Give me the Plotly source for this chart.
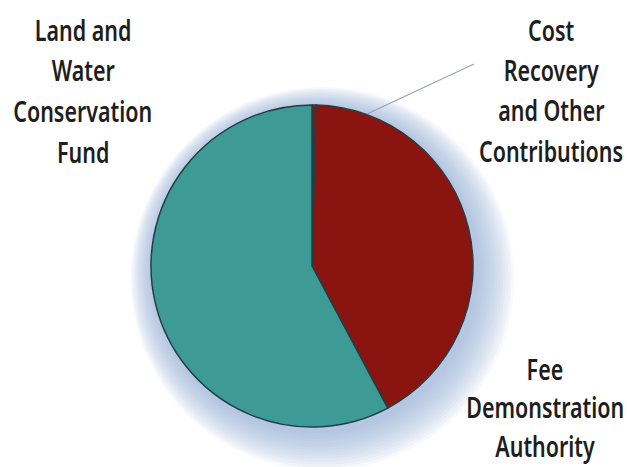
import plotly.graph_objects as go

# Data
categories = ["Cost Recovery and Other Contributions",
              "Fee Demonstration Authority",
              "Land and Water Conservation Fund"]
shares = [0.4, 41.8, 57.8]
colors = ["#8a1410", "#8a1410", "#3d9a95"]

W, H = 627, 467
cx, cy, r = 312, 266, 161

def px(x):
    return x / W

def py(y):
    return 1 - y / H

fig = go.Figure()
fig.add_trace(go.Pie(
    labels=categories, values=shares, sort=False, direction="clockwise",
    rotation=0, marker=dict(colors=colors, line=dict(color="#1f3f45", width=1.5)),
    textinfo="none", hoverinfo="label+percent", showlegend=False,
    domain=dict(x=[px(cx - r), px(cx + r)], y=[py(cy + r), py(cy - r)]),
))

shapes = []
# soft blue glow behind the pie
for i in range(14, 0, -1):
    rr = r + i * 2.2
    ox, oy = 2 + i * 0.6, 3 + i * 0.7
    shapes.append(dict(type="circle", xref="paper", yref="paper", layer="below",
                       x0=px(cx + ox - rr), x1=px(cx + ox + rr),
                       y0=py(cy + oy + rr), y1=py(cy + oy - rr),
                       fillcolor="rgba(150,180,220,0.075)", line=dict(width=0)))
# leader line for the small slice
shapes.append(dict(type="line", xref="paper", yref="paper",
                   x0=px(367), y0=py(114), x1=px(474), y1=py(64),
                   line=dict(color="#9aa4aa", width=1.2)))

label_pos = {
    categories[0]: (551, [30, 70, 110, 151], ["Cost", "Recovery", "and Other", "Contributions"]),
    categories[1]: (545, [369, 407, 446], ["Fee", "Demonstration", "Authority"]),
    categories[2]: (83, [30, 70, 111, 152], ["Land and", "Water", "Conservation", "Fund"]),
}
annotations = []
font = dict(family="Noto Sans, DejaVu Sans, sans-serif",
            size=28, color="#1e1e1e", weight=600)
for cat in categories:
    x, ys, lines = label_pos[cat]
    for yy, t in zip(ys, lines):
        annotations.append(dict(text=t, x=px(x), y=py(yy), xref="paper", yref="paper",
                                showarrow=False, xanchor="center", yanchor="middle",
                                font=font))

fig.update_layout(width=W, height=H, margin=dict(l=0, r=0, t=0, b=0),
                  paper_bgcolor="white", plot_bgcolor="white",
                  shapes=shapes, annotations=annotations)
post = """
document.body.style.margin='0';
var ts = document.querySelectorAll('.annotation-text');
ts.forEach(function(e){ e.style.fontStretch='condensed'; });
var ref = null;
ts.forEach(function(e){ if (e.textContent === 'Conservation') { ref = e; } });
if (ref) {
  var f = 139 / ref.getBBox().width;
  if (f < 1) {
    ts.forEach(function(e){
      var b = e.getBBox();
      var c = b.x + b.width / 2;
      e.setAttribute('transform', 'translate(' + c + ',0) scale(' + f + ',1) translate(' + (-c) + ',0)');
    });
  }
}
"""
fig.write_html("out.html", post_script=post, config={"displayModeBar": False})
